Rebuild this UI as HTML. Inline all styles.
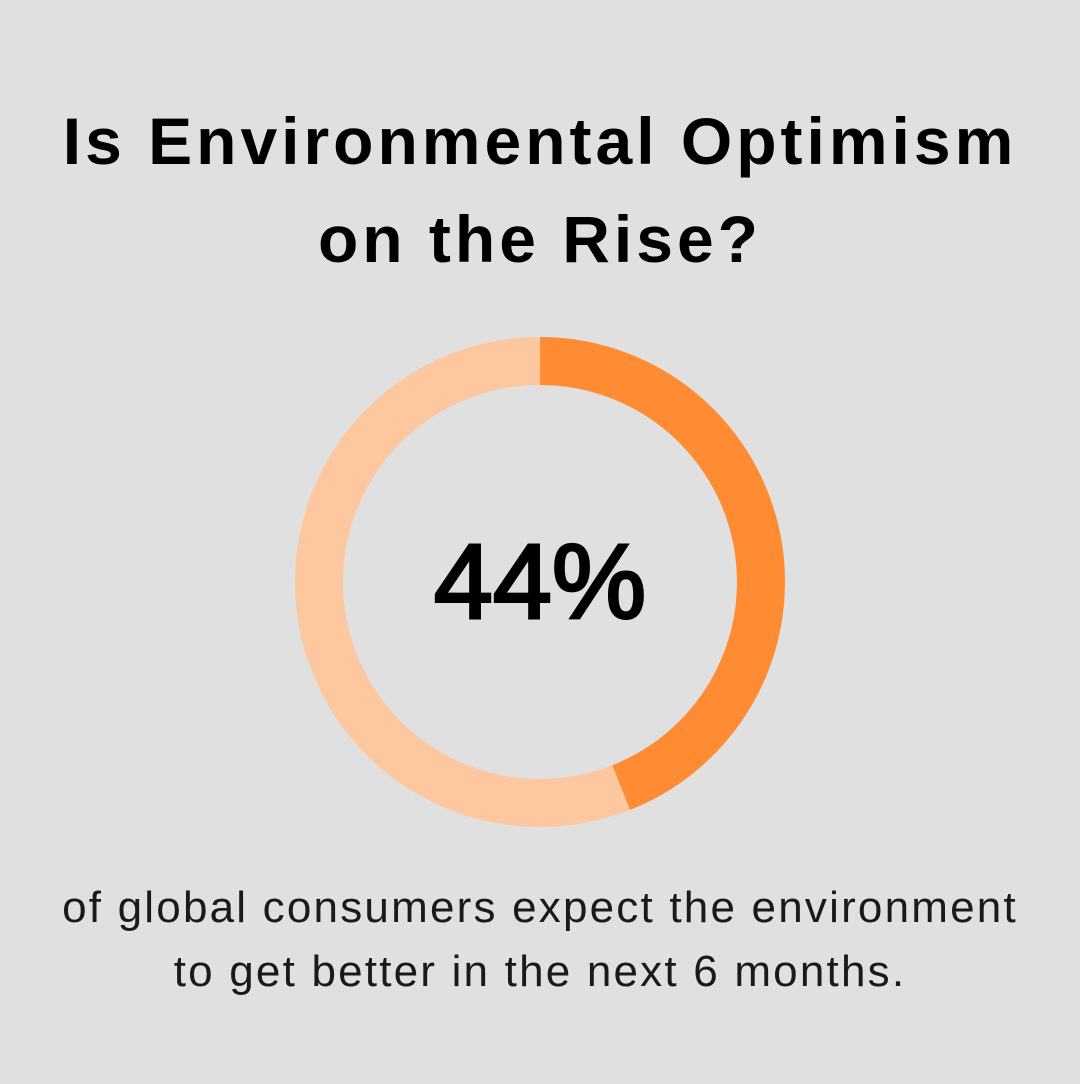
<!DOCTYPE html>
<html><head><meta charset="utf-8"><style>
body{margin:0;width:1080px;height:1084px;background:#dfe0df;font-family:"Liberation Sans",sans-serif;overflow:hidden;position:relative}
h1{position:absolute;top:92px;left:0;width:1080px;margin:0;text-align:center;font-size:66px;font-weight:bold;line-height:98px;color:#000;letter-spacing:4px}
.sub{position:absolute;top:876px;left:0;width:1080px;text-align:center;font-size:44px;line-height:64px;color:#1a1a1a;letter-spacing:2.2px}
svg{position:absolute;left:0;top:0}
</style></head><body>
<h1>Is Environmental Optimism<br>on the Rise?</h1>
<svg width="1080" height="1084">
<circle id="bg" cx="540" cy="582" r="221" fill="none" stroke="#fdc8a0" stroke-width="48"/>
<circle id="fg" cx="540" cy="582" r="221" fill="none" stroke="#ff8c33" stroke-width="48" transform="rotate(-90 540 582)"/>
<text id="val" x="540" y="618" text-anchor="middle" font-size="106" font-family="Liberation Sans, sans-serif" fill="#000" stroke="#000" stroke-width="3">44%</text>
</svg>
<div class="sub">of global consumers expect the environment<br>to get better in the next 6 months.</div>
<script>
const values=[44];
const labels=["44%"];
const C=2*Math.PI*221;
const fg=document.getElementById('fg');
fg.setAttribute('stroke-dasharray',(C*values[0]/100)+' '+C);
document.getElementById('val').textContent=labels[0];
</script>
</body></html>
